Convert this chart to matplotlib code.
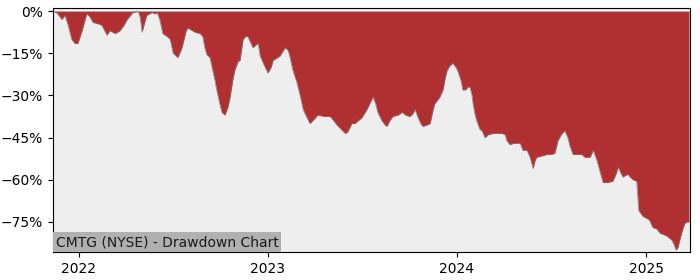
import matplotlib
matplotlib.use("Agg")
import matplotlib.pyplot as plt
import matplotlib.dates as mdates
from matplotlib.ticker import PercentFormatter, MultipleLocator
import pandas as pd

dates = [
    "2021-11-12", "2021-11-20", "2021-11-25", "2021-11-29", "2021-12-05", "2021-12-11",
    "2021-12-18", "2021-12-24", "2021-12-30", "2022-01-07", "2022-01-16", "2022-01-22",
    "2022-01-28", "2022-02-07", "2022-02-14", "2022-02-24", "2022-03-02", "2022-03-12",
    "2022-03-21", "2022-03-29", "2022-04-04", "2022-04-15", "2022-04-21", "2022-04-25",
    "2022-04-29", "2022-05-03", "2022-05-08", "2022-05-12", "2022-05-22", "2022-05-28",
    "2022-06-01", "2022-06-06", "2022-06-12", "2022-06-20", "2022-06-26", "2022-07-02",
    "2022-07-11", "2022-07-19", "2022-07-27", "2022-07-30", "2022-08-13", "2022-08-23",
    "2022-08-28", "2022-09-01", "2022-09-05", "2022-09-11", "2022-09-15", "2022-09-21",
    "2022-09-24", "2022-09-30", "2022-10-04", "2022-10-10", "2022-10-16", "2022-10-20",
    "2022-10-25", "2022-10-29", "2022-11-04", "2022-11-08", "2022-11-14", "2022-11-19",
    "2022-11-23", "2022-12-03", "2022-12-09", "2022-12-13", "2022-12-17", "2022-12-24",
    "2023-01-01", "2023-01-07", "2023-01-11", "2023-01-24", "2023-02-03", "2023-02-09",
    "2023-02-12", "2023-02-18", "2023-02-26", "2023-03-04", "2023-03-10", "2023-03-15",
    "2023-03-23", "2023-03-31", "2023-04-07", "2023-04-21", "2023-05-01", "2023-05-08",
    "2023-05-14", "2023-05-22", "2023-05-30", "2023-06-04", "2023-06-12", "2023-06-18",
    "2023-06-24", "2023-07-01", "2023-07-11", "2023-07-19", "2023-07-23", "2023-07-28",
    "2023-08-01", "2023-08-09", "2023-08-15", "2023-08-19", "2023-08-24", "2023-08-30",
    "2023-09-09", "2023-09-17", "2023-09-24", "2023-10-02", "2023-10-08", "2023-10-12",
    "2023-10-18", "2023-10-23", "2023-10-27", "2023-11-04", "2023-11-10", "2023-11-16",
    "2023-11-19", "2023-11-29", "2023-12-05", "2023-12-09", "2023-12-13", "2023-12-18",
    "2023-12-24", "2023-12-30", "2024-01-03", "2024-01-09", "2024-01-12", "2024-01-18",
    "2024-01-22", "2024-01-26", "2024-01-30", "2024-02-01", "2024-02-05", "2024-02-09",
    "2024-02-14", "2024-02-18", "2024-02-24", "2024-03-01", "2024-03-11", "2024-03-18",
    "2024-03-28", "2024-04-03", "2024-04-06", "2024-04-12", "2024-04-20", "2024-04-28",
    "2024-05-02", "2024-05-07", "2024-05-15", "2024-05-21", "2024-05-27", "2024-05-31",
    "2024-06-03", "2024-06-13", "2024-06-23", "2024-07-02", "2024-07-08", "2024-07-14",
    "2024-07-20", "2024-07-27", "2024-08-02", "2024-08-06", "2024-08-12", "2024-08-20",
    "2024-08-29", "2024-09-04", "2024-09-14", "2024-09-20", "2024-09-23", "2024-09-27",
    "2024-10-03", "2024-10-09", "2024-10-18", "2024-10-28", "2024-11-03", "2024-11-07",
    "2024-11-11", "2024-11-16", "2024-11-26", "2024-11-30", "2024-12-06", "2024-12-13",
    "2024-12-15", "2024-12-17", "2024-12-25", "2025-01-04", "2025-01-07", "2025-01-13",
    "2025-01-21", "2025-01-27", "2025-02-03", "2025-02-09", "2025-02-19", "2025-02-23",
    "2025-02-27", "2025-03-03", "2025-03-06", "2025-03-12", "2025-03-16", "2025-03-20",
    "2025-03-24",
]

drawdown = [
    0, -0.7, -2, -3, -1.5, -5,
    -10, -11.5, -11.5, -7, -1, -2,
    -4, -4.5, -5, -8.5, -7, -8,
    -7, -5, -3, -0.5, -0.3, 0,
    -2, -7.5, -4, -1.5, -0.5, -1,
    -0.5, -3, -8, -9, -10, -15,
    -16.5, -13, -7, -6, -7.5, -8,
    -9, -13, -15.5, -16.5, -20, -25,
    -28, -33, -36, -37, -34, -30.5,
    -24.5, -21, -18, -17.5, -10, -9,
    -9, -13, -12, -11.5, -16, -19,
    -22, -20, -17.5, -16, -13, -14,
    -16, -21, -25.5, -30, -35, -37,
    -40, -38.5, -37, -37.5, -37.5, -39,
    -40.5, -42, -43.5, -43, -40, -40,
    -39, -38, -35, -32, -30.5, -33,
    -36, -39, -40.5, -41, -39, -37.5,
    -37, -36, -37, -37.5, -36.5, -35,
    -38, -40, -41, -40.5, -40, -35,
    -33, -30.5, -28, -24, -21, -19.5,
    -18.5, -20, -21.5, -25, -28, -28,
    -27, -27, -30, -33, -37, -39.5,
    -42, -42.5, -45, -44, -43.5, -43.5,
    -43.5, -44, -46, -47.5, -47, -47,
    -47, -49.5, -49.5, -52, -56, -53,
    -52, -51.5, -51, -51, -50.5, -46,
    -44, -42.5, -45, -48, -51, -51,
    -51, -52, -52, -49.5, -51, -53,
    -57, -61, -61, -60.5, -58, -55.5,
    -57, -59, -58, -59, -60, -60.5,
    -66, -71, -73, -74, -74.5, -77,
    -77.5, -79, -79.5, -80, -81.5, -83,
    -85, -84, -81.5, -77.5, -75.5, -75,
    -75,
]

title_text = "CMTG (NYSE) - Drawdown Chart"

x = pd.to_datetime(dates)

fig = plt.figure(figsize=(7, 2.8), dpi=100)
ax = fig.add_axes([53 / 700, 28 / 280, 637 / 700, 244 / 280])
ax.set_facecolor("#eeeeee")

ax.fill_between(x, 0, drawdown, color="#b03031", linewidth=0)
ax.plot(x, drawdown, color="#777777", linewidth=0.6, alpha=0.8)

ax.set_xlim(pd.Timestamp("2021-11-12"), pd.Timestamp("2025-03-26"))
ax.set_ylim(-85.7, 1.1)

ax.yaxis.set_major_locator(MultipleLocator(15))
ax.yaxis.set_major_formatter(PercentFormatter(decimals=0))
ax.xaxis.set_major_locator(mdates.YearLocator())
ax.xaxis.set_major_formatter(mdates.DateFormatter("%Y"))
ax.tick_params(labelsize=10)

ax.text(0.004, 0.012, title_text, transform=ax.transAxes, fontsize=10,
        color="#1a1a1a", ha="left", va="bottom",
        bbox=dict(facecolor="#b0b0b0", edgecolor="none", boxstyle="square,pad=0.2"))

fig.savefig("out.png", dpi=100)
